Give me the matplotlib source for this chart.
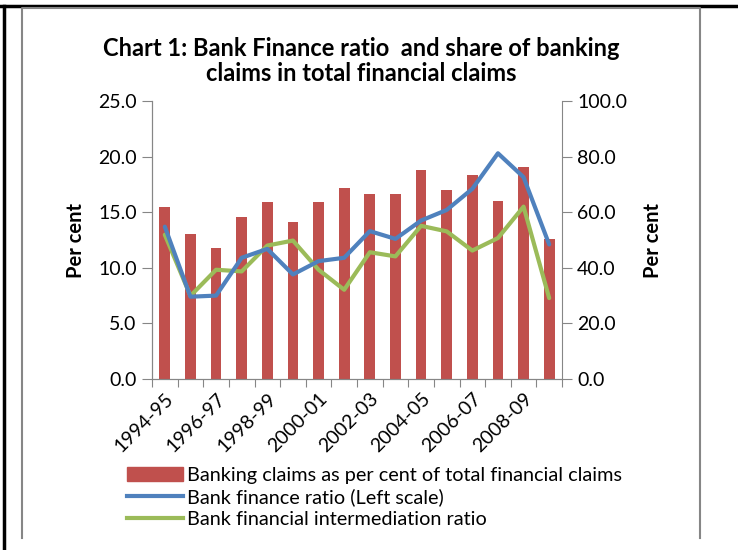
import matplotlib.pyplot as plt
from matplotlib.patches import Patch
from matplotlib.lines import Line2D
import numpy as np

years = ["1994-95", "1995-96", "1996-97", "1997-98", "1998-99", "1999-00",
         "2000-01", "2001-02", "2002-03", "2003-04", "2004-05", "2005-06",
         "2006-07", "2007-08", "2008-09", "2009-10"]
# right scale
banking_claims = [61.8, 52.1, 47.1, 58.2, 63.6, 56.3, 63.6, 68.7,
                  66.5, 66.5, 75.2, 67.9, 73.3, 64.2, 76.2, 50.3]
# left scale
finance_ratio = [13.7, 7.4, 7.5, 10.9, 11.7, 9.4, 10.6, 10.9,
                 13.3, 12.6, 14.25, 15.2, 17.1, 20.3, 18.15, 12.1]
# right scale
intermediation = [51.9, 29.9, 39.3, 38.7, 48.0, 49.8, 39.3, 32.1,
                  45.6, 44.1, 55.1, 53.1, 46.2, 50.7, 62.0, 29.1]

red = "#C0504D"
blue = "#4F81BD"
green = "#9BBB59"
grey = "#868686"
fnt = ["Lato", "DejaVu Sans"]

fig = plt.figure(figsize=(7.38, 5.5), dpi=100)

# page border and chart frame
fig.add_artist(Line2D([0, 1], [1 - 5.5/550, 1 - 5.5/550], color="black", lw=2.5, transform=fig.transFigure))
fig.add_artist(Line2D([4/738, 4/738], [0, 1 - 5.5/550], color="black", lw=2.5, transform=fig.transFigure))
fig.add_artist(Line2D([22/738, 22/738, 700/738, 700/738], [12/550, 1 - 8/550, 1 - 8/550, 12/550],
                      color=grey, lw=1.5, transform=fig.transFigure))

ax = fig.add_axes([152/738, 1 - 379/550, 410/738, 278/550])
ax2 = ax.twinx()
x = np.arange(len(years))

ax2.bar(x, banking_claims, width=0.42, color=red, zorder=1)
ax.plot(x, finance_ratio, color=blue, lw=3, zorder=3, solid_capstyle="round")
ax2.plot(x, intermediation, color=green, lw=3, zorder=3, solid_capstyle="round")
ax.set_zorder(ax2.get_zorder() + 1)
ax.patch.set_visible(False)

ax.set_xlim(-0.5, len(years) - 0.5)
ax.set_ylim(0, 25)
ax2.set_ylim(0, 100)
ax.set_yticks(np.arange(0, 26, 5))
ax.set_yticklabels([f"{v:.1f}" for v in np.arange(0, 26, 5)])
ax2.set_yticks(np.arange(0, 101, 20))
ax2.set_yticklabels([f"{v:.1f}" for v in np.arange(0, 101, 20)])

ax.set_xticks(np.arange(-0.5, len(years), 1))
ax.set_xticklabels([])
ax.set_xticks(x[::2], minor=True)
ax.set_xticklabels(years[::2], minor=True, rotation=45, ha="right",
                   rotation_mode="anchor", fontsize=14, family=fnt)
ax.tick_params(axis="x", which="minor", length=0, pad=8)
ax.tick_params(axis="x", which="major", length=6, color=grey, direction="out")

for a in (ax, ax2):
    for s in a.spines.values():
        s.set_color(grey)
    a.spines["top"].set_visible(False)
    a.tick_params(axis="y", length=7, color=grey, labelsize=14, pad=4)
    for lab in a.get_yticklabels():
        lab.set_family(fnt)
ax.spines["right"].set_visible(False)

ax.set_ylabel("Per cent", fontsize=14.5, fontweight="bold", family=fnt, labelpad=9)
ax2.set_ylabel("Per cent", fontsize=14.5, fontweight="bold", family=fnt, labelpad=11)

fig.text(361/738, 1 - 61/550, "Chart 1: Bank Finance ratio  and share of banking\nclaims in total financial claims",
         ha="center", va="center", fontsize=17, fontweight="bold", family=fnt, linespacing=1.15)

handles = [Patch(color=red), Line2D([], [], color=blue, lw=3), Line2D([], [], color=green, lw=3)]
labels = ["Banking claims as per cent of total financial claims",
          "Bank finance ratio (Left scale)",
          "Bank financial intermediation ratio"]
fig.legend(handles, labels, loc="upper left", bbox_to_anchor=(119/738, 1 - 459/550),
           frameon=False, prop={"family": fnt, "size": 14.3}, handlelength=2.8,
           handletextpad=0.2, labelspacing=0.22, borderaxespad=0)

fig.savefig("out.png", dpi=100)
